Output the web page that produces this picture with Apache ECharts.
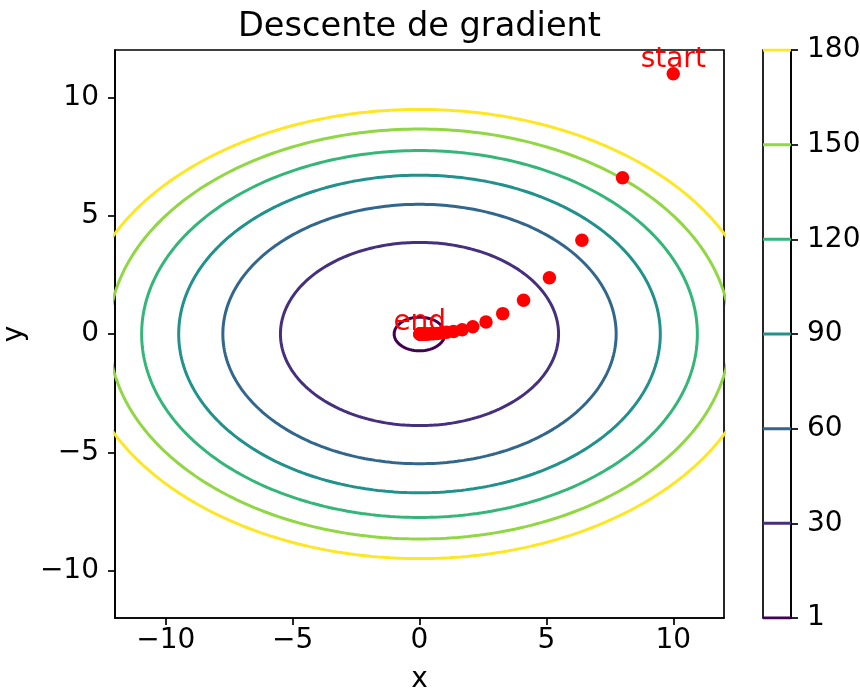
<!DOCTYPE html>
<html><head><meta charset="utf-8">
<script src="https://cdn.jsdelivr.net/npm/echarts@6/dist/echarts.min.js"></script>
<style>html,body{margin:0;padding:0;background:#fff}#c{width:860px;height:693px}</style>
</head><body><div id="c"></div>
<script>
// contour levels (colorbar ticks) and their colours
const levels = [1, 30, 60, 90, 120, 150, 180];
const levelColors = ['#440154', '#46307e', '#31668d', '#21918c', '#34b679', '#90d743', '#fde725'];
// semi-axes of each contour ellipse
const semiX = [1.0, 5.48, 7.75, 9.49, 10.95, 12.25, 13.42];
const semiY = [0.71, 3.87, 5.48, 6.71, 7.75, 8.66, 9.49];
// gradient-descent path
const pathX = [10, 8, 6.4, 5.12, 4.1, 3.28, 2.62, 2.1, 1.68, 1.34, 1.07, 0.86, 0.69, 0.55, 0.44, 0.35, 0.28, 0.23, 0.18, 0.14, 0.12, 0.09, 0.07, 0.06, 0.05, 0.04, 0.03, 0.02, 0.02, 0.01];
const pathY = [11, 6.6, 3.96, 2.38, 1.43, 0.86, 0.51, 0.31, 0.18, 0.11, 0.07, 0.04, 0.02, 0.01, 0.01, 0, 0, 0, 0, 0, 0, 0, 0, 0, 0, 0, 0, 0, 0, 0];
const xTicks = [-10, -5, 0, 5, 10];
const yTicks = [-10, -5, 0, 5, 10];

const FONT = 'DejaVu Sans';
const minus = v => String(v).replace('-', '\u2212');

function ellipse(i) {
  const pts = [];
  const n = 360;
  for (let k = 0; k <= n; k++) {
    const t = 2 * Math.PI * k / n;
    pts.push([semiX[i] * Math.cos(t), semiY[i] * Math.sin(t)]);
  }
  return pts;
}

const series = [];
levels.forEach((lv, i) => {
  series.push({
    type: 'line', xAxisIndex: 0, yAxisIndex: 0, data: ellipse(i),
    showSymbol: false, symbol: 'none', clip: true, silent: true, z: 2,
    lineStyle: { color: levelColors[i], width: 3 }
  });
  series.push({
    type: 'line', xAxisIndex: 1, yAxisIndex: 1, data: [[0, i], [1, i]],
    showSymbol: false, symbol: 'none', clip: true, silent: true, z: 2,
    lineStyle: { color: levelColors[i], width: 3, cap: 'butt' }
  });
});

const lbl = (txt) => ({ show: true, formatter: txt, position: 'top', distance: -7, color: '#ff0000', fontSize: 28, fontFamily: FONT });
series.push({
  type: 'scatter', xAxisIndex: 0, yAxisIndex: 0, symbolSize: 13.5, z: 5,
  itemStyle: { color: '#ff0000', opacity: 1 },
  data: pathX.map((x, i) => {
    const d = { value: [x, pathY[i]] };
    if (i === 0) d.label = lbl('start');
    if (i === pathX.length - 1) d.label = Object.assign(lbl('end'), { distance: -9 });
    return d;
  })
});

const axisCommon = {
  axisLine: { show: true, onZero: false, lineStyle: { color: '#000', width: 1.7 } },
  axisTick: { show: true, length: 7, lineStyle: { color: '#000', width: 1.7 } },
  splitLine: { show: false },
  nameTextStyle: { fontSize: 28, color: '#000', fontFamily: FONT }
};

const chart = echarts.init(document.getElementById('c'), null, { renderer: 'canvas' });
chart.setOption({
  animation: false,
  backgroundColor: '#fff',
  title: {
    text: 'Descente de gradient', left: 238, top: 10, padding: 0,
    textStyle: { fontSize: 33.6, fontWeight: 'normal', color: '#000', fontFamily: FONT }
  },
  grid: [
    { left: 115, top: 50, width: 609, height: 568, show: true, borderColor: '#000', borderWidth: 1.7, backgroundColor: 'transparent', containLabel: false, outerBoundsMode: 'none' },
    { left: 763, top: 50, width: 28, height: 568, show: true, borderColor: '#000', borderWidth: 1.7, backgroundColor: 'transparent', containLabel: false, outerBoundsMode: 'none' }
  ],
  xAxis: [
    Object.assign({}, axisCommon, {
      gridIndex: 0, type: 'value', min: -12, max: 12,
      axisTick: Object.assign({}, axisCommon.axisTick, { customValues: xTicks }),
      axisLabel: { customValues: xTicks, formatter: minus, fontSize: 28, color: '#000', fontFamily: FONT, margin: 9 },
      name: 'x', nameLocation: 'middle', nameGap: 48
    }),
    { gridIndex: 1, type: 'value', min: 0, max: 1, show: false }
  ],
  yAxis: [
    Object.assign({}, axisCommon, {
      gridIndex: 0, type: 'value', min: -12, max: 12,
      axisTick: Object.assign({}, axisCommon.axisTick, { customValues: yTicks }),
      axisLabel: { customValues: yTicks, formatter: minus, fontSize: 28, color: '#000', fontFamily: FONT, margin: 16 },
      name: 'y', nameLocation: 'middle', nameGap: 76
    }),
    Object.assign({}, axisCommon, {
      gridIndex: 1, type: 'value', position: 'right', min: 0, max: 6, interval: 1,
      axisLabel: { formatter: v => String(levels[v]), fontSize: 28, color: '#000', fontFamily: FONT, margin: 16 }
    })
  ],
  series: series
});
</script>
</body></html>
